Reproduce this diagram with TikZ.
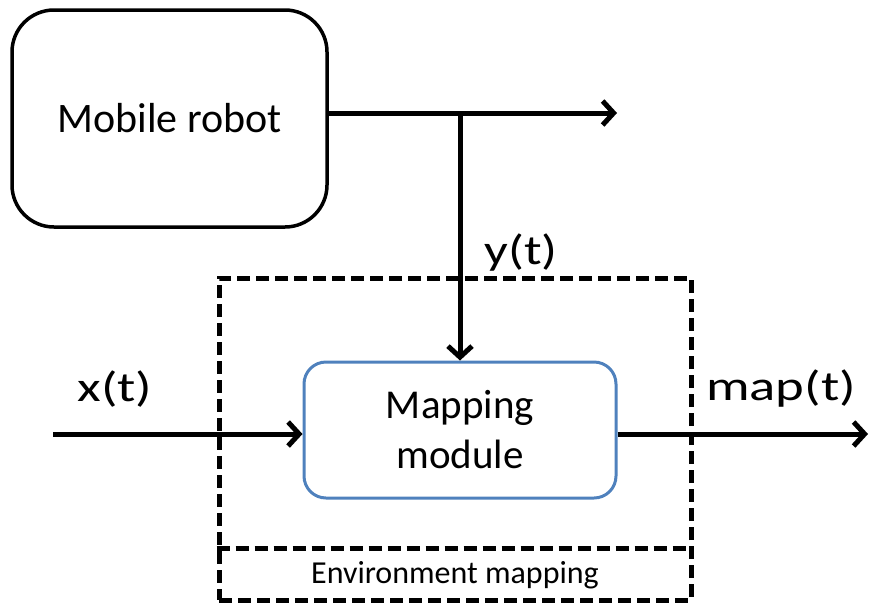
\documentclass[tikz,border=0pt]{standalone}
\usepackage{fontspec}
\setmainfont{Carlito}
\usetikzlibrary{arrows.meta}
\definecolor{officeblue}{RGB}{79,129,189}
\begin{document}
\begin{tikzpicture}[x=1pt,y=-1pt,
  robotbox/.style={draw=black,line width=3.5pt,rounded corners=42pt,minimum width=315pt,minimum height=217pt,inner sep=0pt,font=\fontsize{42}{50}\selectfont},
  modbox/.style={draw=officeblue,line width=3pt,rounded corners=22pt,minimum width=312pt,minimum height=136pt,inner sep=0pt,align=center,font=\fontsize{41}{50}\selectfont},
  envbox/.style={draw=black,line width=5pt,dash pattern=on 13pt off 6pt,minimum width=472pt,minimum height=322pt,inner sep=0pt},
  conn/.style={line width=5pt,-{Straight Barb[length=11pt,width=24pt]}},
  plainline/.style={line width=5pt},
  sig/.style={font=\fontsize{42}{50}\selectfont,inner sep=0pt},
  envlabel/.style={font=\fontsize{32}{38}\selectfont,inner sep=0pt}]
\useasboundingbox (0,0) rectangle (870,603);
\node[robotbox] (robot) at (169.5,118.5) {Mobile robot};
\node[envbox] (env) at (455,439) {};
\draw[line width=5pt,dash pattern=on 13pt off 6pt] (env.west |- 0,548) -- (env.east |- 0,548);
\node[envlabel] (envl) at (455,575) {Environment mapping};
\node[modbox] (mod) at (460,430) {Mapping\\module};
\coordinate (j) at (460,113);
\coordinate (out) at (617,113);
\coordinate (xin) at (53,434);
\coordinate (mout) at (868,434);
\draw[plainline] (robot.east |- j) -- (j);
\draw[conn] (j) -- (out);
\draw[conn] (j) -- (mod.north);
\draw[conn] (xin) -- (xin -| mod.west);
\draw[conn] (mout -| mod.east) -- (mout);
\node[sig] (ylab) at (521,253) {\scalebox{1.25}[1]{y(t)}};
\node[sig] (xlab) at (115,389) {\scalebox{1.3}[1]{x(t)}};
\node[sig] (maplab) at (781,389) {\scalebox{1.3}[1]{map(t)}};
\end{tikzpicture}
\end{document}
